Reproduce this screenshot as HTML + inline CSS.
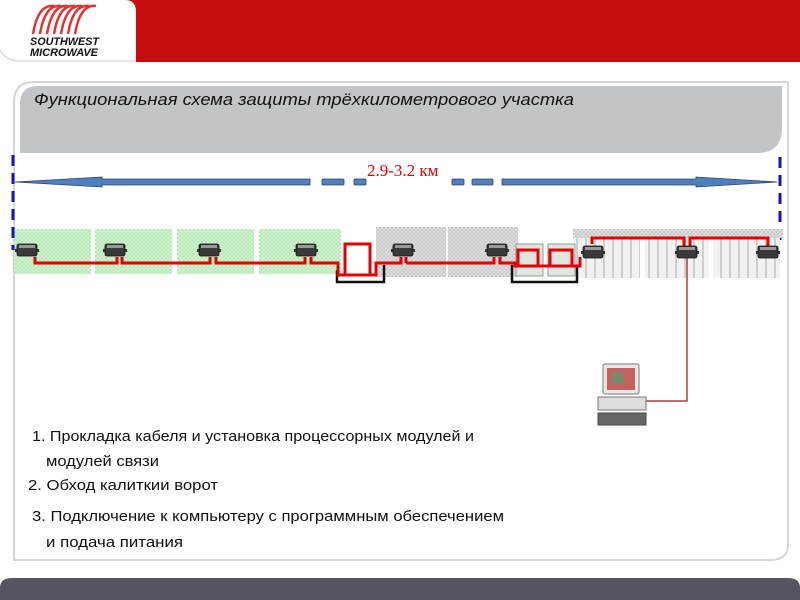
<!DOCTYPE html>
<html><head><meta charset="utf-8"><style>
html,body{margin:0;padding:0;background:#fff;width:800px;height:600px;overflow:hidden}
svg{display:block}
</style></head><body>
<svg width="800" height="600" viewBox="0 0 800 600" xmlns="http://www.w3.org/2000/svg">
<defs>
<pattern id="grn" width="4" height="4" patternUnits="userSpaceOnUse">
<rect width="4" height="4" fill="#d8f5d8"/><path d="M0 4L4 0M0 0L4 4" stroke="#9fe29f" stroke-width="0.6"/>
</pattern>
<pattern id="gry" width="4" height="4" patternUnits="userSpaceOnUse">
<rect width="4" height="4" fill="#e2e2e2"/><path d="M0 4L4 0M0 0L4 4" stroke="#bcbcbc" stroke-width="0.6"/>
</pattern>
<pattern id="pal" width="9" height="40" patternUnits="userSpaceOnUse">
<rect width="9" height="40" fill="#f2f2f2"/><rect x="0" y="0" width="2" height="40" fill="#cfcfcf"/>
</pattern>
<g id="mod">
<rect x="-10" y="-6" width="20" height="12" rx="2" fill="#3a3a3a" stroke="#111" stroke-width="0.8"/>
<rect x="-8" y="-5" width="16" height="3" fill="#999"/>
<rect x="-12" y="-1" width="2" height="3" fill="#333"/><rect x="10" y="-1" width="2" height="3" fill="#333"/>
</g>
</defs>
<!-- header -->
<rect x="0" y="0" width="800" height="62" fill="#c50d0d"/>
<path d="M0 0H125Q136 0 136 12V62H0Z" fill="#fff"/>
<path d="M0 50Q6 60 18 61H136" fill="none" stroke="#ccc" stroke-width="1"/>
<g stroke="#e83030" stroke-width="2.4" fill="none">
<path d="M33 34Q38 4 54 6M40 34Q45 4 61 6M47 34Q52 4 68 6M54 34Q59 4 75 6M61 34Q66 4 82 6M68 34Q73 4 89 6M75 34Q80 4 96 6"/>
</g>
<text x="30" y="45" font-family="Liberation Sans,sans-serif" font-weight="bold" font-style="italic" font-size="11" fill="#111" textLength="69" lengthAdjust="spacingAndGlyphs">SOUTHWEST</text>
<text x="30" y="56" font-family="Liberation Sans,sans-serif" font-weight="bold" font-style="italic" font-size="11" fill="#111" textLength="68" lengthAdjust="spacingAndGlyphs">MICROWAVE</text>
<!-- panel -->
<path d="M34 82H788V545Q788 560 770 560H14V102Q14 82 34 82Z" fill="#fff" stroke="#d6d6d6" stroke-width="2"/>
<path d="M38 86H782V128Q782 153 757 153H20V104Q20 86 38 86Z" fill="#c3c4c8"/>
<text x="34" y="105" font-family="Liberation Sans,sans-serif" font-style="italic" font-size="17" fill="#111" textLength="540" lengthAdjust="spacingAndGlyphs">Функциональная схема защиты трёхкилометрового участка</text>
<!-- dashed blue verticals -->
<line x1="13" y1="155" x2="13" y2="250" stroke="#1212d0" stroke-width="3" stroke-dasharray="11,7"/>
<line x1="780" y1="157" x2="780" y2="240" stroke="#1212d0" stroke-width="3" stroke-dasharray="11,7"/>
<!-- arrow -->
<g fill="#4f7fbf" stroke="#2c4666" stroke-width="0.8">
<path d="M15 182L102 177V179H310V185H102V187Z"/>
<rect x="322" y="179" width="22" height="6" rx="1"/>
<rect x="354" y="179" width="12" height="6" rx="1"/>
<rect x="452" y="179" width="12" height="6" rx="1"/>
<rect x="472" y="179" width="21" height="6" rx="1"/>
<path d="M502 179H696V177L777 182L696 187V185H502Z"/>
</g>
<text x="367" y="176" font-family="Liberation Serif,serif" font-size="17" fill="#e00">2.9-3.2 км</text>
<!-- fences -->
<rect x="15" y="229" width="76" height="45" fill="url(#grn)"/>
<rect x="95" y="229" width="77" height="45" fill="url(#grn)"/>
<rect x="177" y="229" width="77" height="45" fill="url(#grn)"/>
<rect x="259" y="229" width="82" height="45" fill="url(#grn)"/>
<rect x="376" y="227" width="70" height="50" fill="url(#gry)"/>
<rect x="448" y="227" width="70" height="50" fill="url(#gry)"/>
<rect x="516" y="244" width="27" height="32" fill="#dfe6df" stroke="#999"/>
<rect x="548" y="244" width="27" height="32" fill="#dfe6df" stroke="#999"/>
<rect x="573" y="229" width="210" height="9" fill="url(#gry)"/>
<rect x="576" y="238" width="64" height="40" fill="url(#pal)"/>
<rect x="645" y="238" width="64" height="40" fill="url(#pal)"/>
<rect x="713" y="238" width="67" height="40" fill="url(#pal)"/>
<!-- black bypass -->
<path d="M337 270V282H384V265M512 265V282H577V265" fill="none" stroke="#111" stroke-width="2.5"/>
<!-- red cables -->
<g fill="none" stroke="#e60000" stroke-width="3">
<path d="M35 257V263H117V257M122 257V263H210V257M216 257V263H305V257M311 257V263H338V275H370V244H345V275M370 275H376V263H401V257M406 263V257M406 263H494V257"/>
<path d="M500 257V263H515V266H538V250H518V266M538 266H550V250H572V266H550M572 266H580V257"/>
<path d="M592 244V238H684V247M690 247V238H768V247"/>
</g>
<g>
<use href="#mod" x="27" y="250"/><use href="#mod" x="115" y="250"/><use href="#mod" x="209" y="250"/>
<use href="#mod" x="306" y="250"/><use href="#mod" x="403" y="250"/><use href="#mod" x="497" y="250"/>
<use href="#mod" x="593" y="252"/><use href="#mod" x="687" y="252"/><use href="#mod" x="768" y="252"/>
</g>
<!-- line to computer -->
<path d="M687 258V401H645" fill="none" stroke="#a01010" stroke-width="1.2"/>
<!-- computer -->
<rect x="603" y="364" width="36" height="30" rx="2" fill="#e8e8e8" stroke="#777"/>
<rect x="607" y="368" width="28" height="22" fill="#c86060"/>
<rect x="612" y="372" width="12" height="12" fill="#7a8a6a"/>
<rect x="598" y="397" width="48" height="13" fill="#ddd" stroke="#777"/>
<rect x="598" y="413" width="48" height="12" fill="#666" stroke="#444"/>
<!-- text -->
<g font-family="Liberation Sans,sans-serif" font-size="15" fill="#111">
<text x="32" y="441" textLength="442" lengthAdjust="spacingAndGlyphs">1. Прокладка кабеля и установка процессорных модулей и</text>
<text x="46" y="466" textLength="113" lengthAdjust="spacingAndGlyphs">модулей связи</text>
<text x="28" y="490" textLength="190" lengthAdjust="spacingAndGlyphs">2. Обход калиткии ворот</text>
<text x="32" y="521" textLength="472" lengthAdjust="spacingAndGlyphs">3. Подключение к компьютеру с программным обеспечением</text>
<text x="46" y="547" textLength="137" lengthAdjust="spacingAndGlyphs">и подача питания</text>
</g>
<!-- footer -->
<path d="M0 588Q0 578 12 578H788Q800 578 800 588V600H0Z" fill="#53565e"/>
</svg>
</body></html>
